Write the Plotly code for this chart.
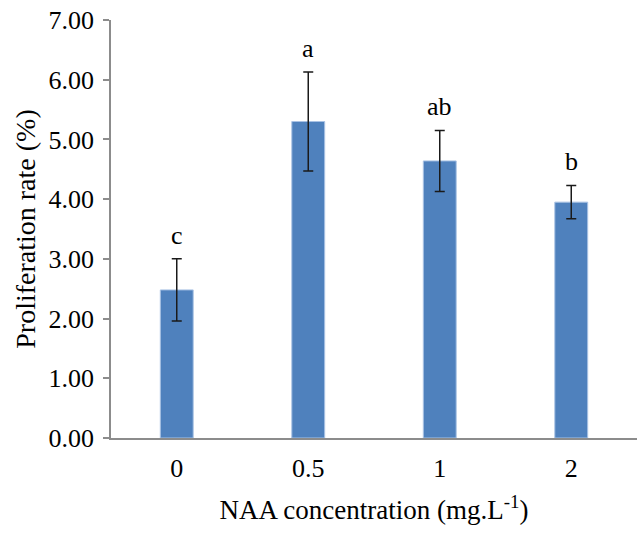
import plotly.graph_objects as go

categories = ["0", "0.5", "1", "2"]
values = [2.48, 5.30, 4.64, 3.95]
errors = [0.52, 0.83, 0.51, 0.28]
letters = ["c", "a", "ab", "b"]
y_ticks = [0, 1, 2, 3, 4, 5, 6, 7]
y_tick_labels = ["0.00", "1.00", "2.00", "3.00", "4.00", "5.00", "6.00", "7.00"]

FONT = "Liberation Serif"
AXIS_COLOR = "#8c8c8c"

fig = go.Figure()
fig.add_trace(go.Bar(
    x=categories, y=values, width=0.25,
    marker=dict(color="#4f81bd", line=dict(color="#a9c2e4", width=1)),
    error_y=dict(type="data", array=errors, visible=True, color="#1a1a1a",
                 thickness=1.5, width=5),
))

for i, (v, e, t) in enumerate(zip(values, errors, letters)):
    fig.add_annotation(x=i, y=v + e, text=t, showarrow=False, yanchor="bottom",
                       yshift=7, font=dict(family=FONT, size=26, color="#000"))

fig.update_layout(
    width=642, height=535,
    margin=dict(l=111, r=5, t=20, b=97),
    paper_bgcolor="white", plot_bgcolor="white",
    showlegend=False,
    font=dict(family=FONT, size=26, color="#000"),
)
fig.update_xaxes(
    type="category", showline=True, linecolor=AXIS_COLOR, linewidth=1.5,
    ticks="outside", ticklen=6, tickcolor="rgba(0,0,0,0)",
    tickfont=dict(family=FONT, size=26),
    title=dict(text="NAA concentration (mg.L<sup>-1</sup>)", standoff=18,
               font=dict(family=FONT, size=27)),
    showgrid=False, zeroline=False, automargin=False,
)
fig.update_yaxes(
    range=[0, 7], tickvals=y_ticks, ticktext=y_tick_labels,
    showline=True, linecolor=AXIS_COLOR, linewidth=1.5,
    ticks="outside", ticklen=6, tickcolor=AXIS_COLOR, tickwidth=1.5,
    ticklabelstandoff=4, ticklabeloverflow="allow",
    tickfont=dict(family=FONT, size=26),
    title=dict(text="Proliferation rate (%)", standoff=5,
               font=dict(family=FONT, size=28)),
    showgrid=False, zeroline=False, automargin=False,
)

fig.write_html("out.html", config={"displayModeBar": False},
               post_script="document.body.style.margin='0';")
